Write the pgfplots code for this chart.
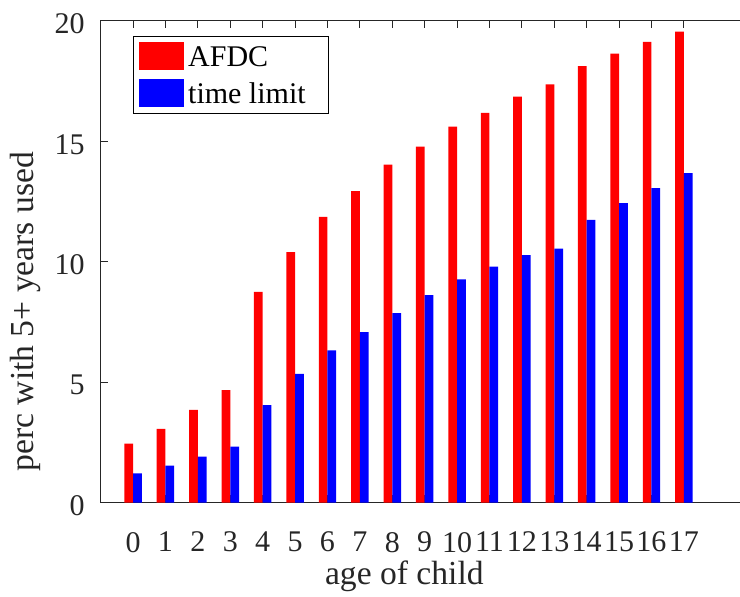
\documentclass[border=0pt]{standalone}
\usepackage{fontspec}
\setmainfont{Liberation Serif}
\usepackage{pgfplots}
\pgfplotsset{compat=1.18}
\definecolor{axgray}{rgb}{0.15,0.15,0.15}
\begin{document}
\begin{tikzpicture}
\begin{axis}[
 name=ax,
 scale only axis,
 width=324pt, height=240.85pt,
 xmin=-1, xmax=19, ymin=0, ymax=20,
 xtick={0,...,17},
 ytick={0,5,10,15,20},
 tick align=inside,
 major tick length=3.6pt,
 xtick pos=both,
 ytick pos=left,
 axis line style={axgray, line width=0.5pt},
 every tick/.style={axgray, line width=0.5pt},
 tick label style={font=\fontsize{15}{18}\selectfont, text=axgray, /pgf/number format/assume math mode=true},
 xticklabel style={anchor=north, inner sep=0pt, yshift=-14.5pt},
 yticklabel style={anchor=east, inner sep=0pt, xshift=-7.85pt, yshift=-1.5pt},
 xlabel={age of child},
 ylabel={perc with 5+ years used},
 every axis x label/.style={at={(axis description cs:0.4686,-0.1694)}, anchor=base, font=\fontsize{16.8}{20}\selectfont, text=axgray},
 every axis y label/.style={at={(axis description cs:-0.104,0.3965)}, rotate=90, anchor=base, font=\fontsize{16.8}{20}\selectfont, text=axgray},
 legend cell align=left,
 legend style={at={(axis description cs:0.0503,0.9695)}, anchor=north west,
   draw=black, line width=0.5pt, fill=white,
   inner xsep=2.85pt, inner ysep=3.15pt, row sep=4.2pt,
   font=\fontsize{15}{18}\selectfont,
   nodes={inner sep=0pt, text depth=0pt}},
]
\addplot[ybar, bar width=0.27, bar shift=-0.135, fill=red, draw=none,
  legend image code/.code={\fill[red] (0pt,-7pt) rectangle (22.35pt,7pt);}]
coordinates {(0,2.45) (1,3.06) (2,3.85) (3,4.67) (4,8.75) (5,10.40) (6,11.87) (7,12.94) (8,14.04) (9,14.78) (10,15.61) (11,16.18) (12,16.86) (13,17.37) (14,18.13) (15,18.65) (16,19.13) (17,19.56)};
\addlegendentry{\hspace{2pt}\makebox[67.45pt][l]{AFDC}}
\addplot[ybar, bar width=0.27, bar shift=0.135, fill=blue, draw=none,
  legend image code/.code={\fill[blue] (0pt,-7pt) rectangle (22.35pt,7pt);}]
coordinates {(0,1.22) (1,1.54) (2,1.91) (3,2.33) (4,4.05) (5,5.35) (6,6.32) (7,7.08) (8,7.87) (9,8.62) (10,9.27) (11,9.80) (12,10.28) (13,10.55) (14,11.74) (15,12.44) (16,13.06) (17,13.68)};
\addlegendentry{\hspace{2pt}\makebox[67.45pt][l]{time limit}}
\end{axis}
\pgfresetboundingbox
\path ([shift={(-50.35pt,-47.15pt)}]ax.south west) rectangle ([shift={(319.65pt,251.35pt)}]ax.south west);
\end{tikzpicture}
\end{document}
